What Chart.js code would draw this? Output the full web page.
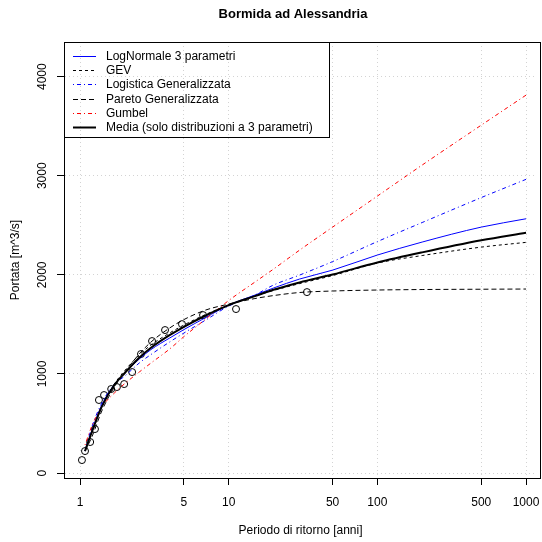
<!DOCTYPE html>
<html>
<head>
<meta charset="utf-8">
<script src="https://cdn.jsdelivr.net/npm/chart.js@4.4.1/dist/chart.umd.min.js"></script>
<style>
  html, body { margin: 0; padding: 0; background: #fff; }
  #wrap { width: 542px; height: 542px; }
</style>
</head>
<body>
<div id="wrap"><canvas id="chart" width="542" height="542"></canvas></div>
<script>
// --- DATI ---
const titolo = 'Bormida ad Alessandria';
const xTicks = [1, 5, 10, 50, 100, 500, 1000];
const yTicks = [0, 1000, 2000, 3000, 4000];

// periodi di ritorno su cui sono lette le curve
const periodi = [1.08, 1.2, 1.4, 1.7, 2, 2.5, 3, 4, 5, 7, 10, 15, 20, 30, 50, 100, 200, 500, 1000];
const logNormale = [222, 424, 686, 893, 1009, 1150, 1246, 1362, 1448, 1569, 1695, 1796, 1867, 1958, 2048, 2200, 2331, 2482, 2566];
const gev = [222, 404, 666, 898, 1034, 1191, 1292, 1413, 1494, 1600, 1695, 1786, 1842, 1912, 1993, 2119, 2195, 2280, 2328];
const logistica = [222, 464, 706, 893, 979, 1110, 1196, 1322, 1413, 1544, 1685, 1796, 1897, 1998, 2134, 2336, 2528, 2780, 2964];
const pareto = [222, 363, 626, 868, 1019, 1201, 1322, 1463, 1549, 1645, 1705, 1761, 1791, 1822, 1837, 1847, 1852, 1855, 1857];
const gumbel = [283, 474, 666, 807, 903, 1019, 1110, 1251, 1377, 1554, 1741, 1927, 2058, 2250, 2482, 2795, 3108, 3511, 3814];
const media = [222, 414, 671, 888, 1010, 1163, 1264, 1391, 1476, 1590, 1695, 1785, 1849, 1923, 2003, 2125, 2227, 2349, 2425];

// osservazioni (periodo di ritorno, portata)
const obsT = [1.03, 1.08, 1.17, 1.26, 1.34, 1.45, 1.62, 1.77, 1.98, 2.24, 2.57, 3.05, 3.73, 4.85, 6.72, 11.2, 33.6];
const obsQ = [131, 222, 313, 444, 737, 787, 848, 868, 898, 1019, 1201, 1332, 1443, 1503, 1594, 1655, 1826];

const FONT = '"Liberation Sans", Arial, Helvetica, sans-serif';

// --- SERIE ---
const serie = [
    { label: 'LogNormale 3 parametri', data: logNormale, color: '#0000ff', dash: [], width: 1 },
    { label: 'GEV', data: gev, color: '#000000', dash: [3, 3], width: 1 },
    { label: 'Logistica Generalizzata', data: logistica, color: '#0000ff', dash: [1, 3, 4, 3], width: 1 },
    { label: 'Pareto Generalizzata', data: pareto, color: '#000000', dash: [5, 3], width: 1 },
    { label: 'Gumbel', data: gumbel, color: '#ff0000', dash: [1, 3, 4, 3], width: 1 },
    { label: 'Media (solo distribuzioni a 3 parametri)', data: media, color: '#000000', dash: [], width: 2 }
];

const datasets = serie.map((s, i) => ({
    label: s.label,
    data: periodi.map((t, k) => ({ x: t, y: s.data[k] })),
    borderColor: s.color,
    borderDash: s.dash,
    borderWidth: s.width,
    pointRadius: 0,
    fill: false,
    cubicInterpolationMode: 'monotone',
    order: i === 5 ? 0 : 6 - i
}));

datasets.push({
    label: 'Osservati',
    data: obsT.map((t, k) => ({ x: t, y: obsQ[k] })),
    showLine: false,
    pointRadius: 3.5,
    pointBorderWidth: 1,
    pointBorderColor: '#000',
    pointBackgroundColor: 'rgba(0,0,0,0)',
    order: 10
});

// --- PLUGIN: cornice, titolo, legenda ---
const decorazioni = {
    id: 'decorazioni',
    afterDraw(chart) {
        const ctx = chart.ctx;
        const a = chart.chartArea;
        ctx.save();
        // cornice del grafico (fino al bordo destro come nell'originale)
        ctx.strokeStyle = '#000';
        ctx.lineWidth = 1;
        ctx.setLineDash([]);
        const left = Math.round(a.left) + 0.5, top = Math.round(a.top) + 0.5;
        ctx.strokeRect(left, top, 540.5 - left, Math.round(a.bottom - a.top));

        // titolo
        ctx.fillStyle = '#000';
        ctx.font = 'bold 13px ' + FONT;
        ctx.textAlign = 'center';
        ctx.textBaseline = 'middle';
        ctx.fillText(titolo, 293, 14);

        // legenda
        ctx.strokeRect(left, top, 265, 95);
        ctx.font = '12px ' + FONT;
        ctx.textAlign = 'left';
        serie.forEach((s, i) => {
            const y = Math.round(56 + i * 14.2) + 0.5;
            ctx.strokeStyle = s.color;
            ctx.lineWidth = s.width;
            ctx.setLineDash(s.dash);
            ctx.beginPath();
            ctx.moveTo(73, y);
            ctx.lineTo(96, y);
            ctx.stroke();
            ctx.setLineDash([]);
            ctx.fillText(s.label, 106, y);
        });
        ctx.restore();
    }
};

new Chart(document.getElementById('chart'), {
    type: 'line',
    data: { datasets },
    options: {
        responsive: false,
        animation: false,
        layout: { padding: { left: 0, top: 42, right: 1, bottom: 0 } },
        plugins: { legend: { display: false }, tooltip: { enabled: false }, title: { display: false } },
        scales: {
            x: {
                type: 'logarithmic',
                min: 0.78,
                max: 1185,
                afterBuildTicks: (scale) => { scale.ticks = xTicks.map(v => ({ value: v })); },
                afterFit: (scale) => { scale.height = 64; scale.paddingLeft = 0; scale.paddingRight = 0; },
                ticks: {
                    autoSkip: false,
                    maxRotation: 0,
                    color: '#000',
                    font: { family: FONT, size: 12 },
                    padding: 10,
                    callback: (v) => String(v)
                },
                grid: {
                    color: '#d3d3d3',
                    tickColor: '#000',
                    tickLength: 7,
                    tickBorderDash: [],
                    lineWidth: 1
                },
                border: { display: true, color: '#000', width: 1, dash: [1, 3] },
                title: {
                    display: true,
                    text: 'Periodo di ritorno [anni]',
                    color: '#000',
                    font: { family: FONT, size: 12 },
                    padding: { top: 0, bottom: 4 }
                }
            },
            y: {
                type: 'linear',
                min: -50,
                max: 4350,
                afterBuildTicks: (scale) => { scale.ticks = yTicks.map(v => ({ value: v })); },
                afterFit: (scale) => { scale.width = 64; },
                ticks: {
                    autoSkip: false,
                    minRotation: 90,
                    maxRotation: 90,
                    crossAlign: 'center',
                    color: '#000',
                    font: { family: FONT, size: 12 },
                    padding: 1,
                    callback: (v) => String(v)
                },
                grid: {
                    color: '#d3d3d3',
                    tickColor: '#000',
                    tickLength: 7,
                    tickBorderDash: [],
                    lineWidth: 1
                },
                border: { display: true, color: '#000', width: 1, dash: [1, 3] },
                title: {
                    display: true,
                    text: 'Portata [m^3/s]',
                    color: '#000',
                    font: { family: FONT, size: 12 },
                    padding: { top: 8, bottom: 0 }
                }
            }
        }
    },
    plugins: [decorazioni]
});
</script>
</body>
</html>
